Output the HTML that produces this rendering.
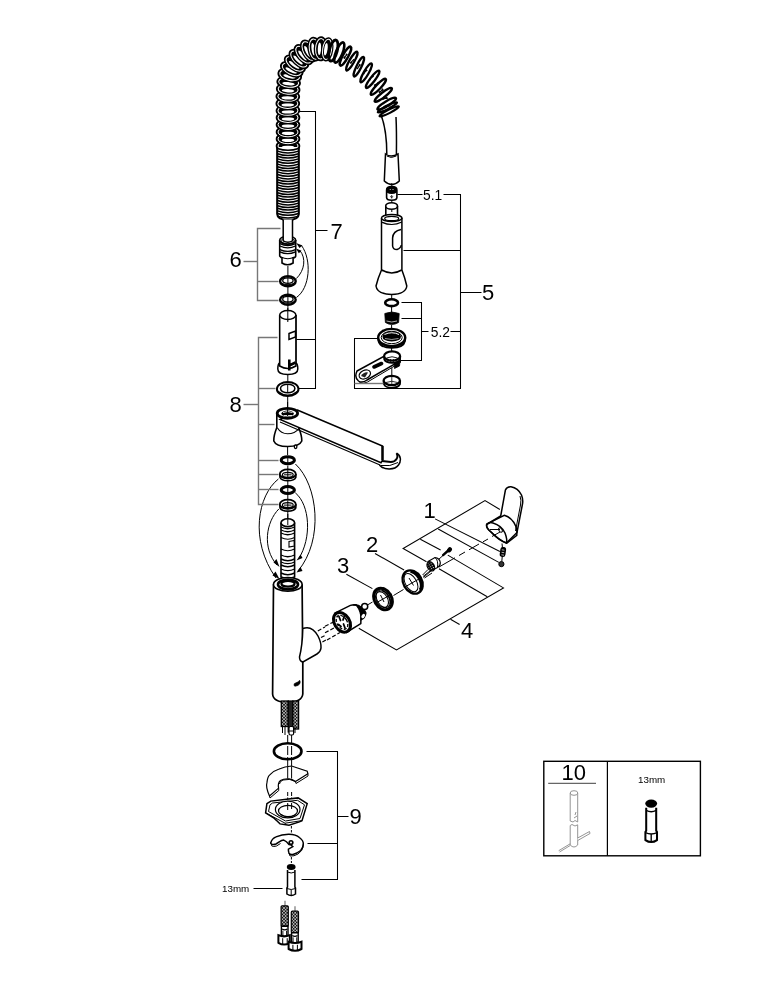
<!DOCTYPE html><html><head><meta charset="utf-8"><style>
html,body{margin:0;padding:0;background:#fff;}
svg{display:block;will-change:transform;}
.cr{fill:none;stroke:#000;stroke-width:3.6;}
.cw{fill:none;stroke:#fff;stroke-width:1.0;}
.s1{stroke:#000;stroke-width:1;}
.s1:not([fill]){fill:none;}
.s12{stroke:#000;stroke-width:1.2;}
.s12:not([fill]){fill:none;}
.s15{stroke:#000;stroke-width:1.5;}
.s15:not([fill]){fill:none;}
.s2{stroke:#000;stroke-width:2;}
.s2:not([fill]){fill:none;}
.s22{stroke:#000;stroke-width:2.2;}
.s22:not([fill]){fill:none;}
.s26{stroke:#000;stroke-width:2.6;}
.s26:not([fill]){fill:none;}
.br{fill:none;stroke:#000;stroke-width:1.05;}
.brg{fill:none;stroke:#777;stroke-width:1.4;}
text{font-family:"Liberation Sans",sans-serif;fill:#000;}
.t10{font-size:9.8px;}
.t13{font-size:13.8px;}
.t22{font-size:22px;}
.t19{font-size:19px;}
.t20{font-size:20px;}
.t21{font-size:21px;}
</style></head><body><svg width="769" height="1000" viewBox="0 0 769 1000"><g><polyline points="345.0,55.8 345.2,56.0 345.5,56.1 345.7,56.3 345.9,56.5 346.2,56.6 346.4,56.8 346.6,57.0 346.8,57.1 347.1,57.3 347.3,57.5 347.5,57.6 347.7,57.8 347.9,58.0 348.2,58.1 348.4,58.3 348.6,58.5 348.8,58.7 349.0,58.8 349.3,59.0 349.5,59.2 349.7,59.4 349.9,59.5 350.1,59.7 350.3,59.9 350.6,60.1 350.8,60.2 351.0,60.4 351.2,60.6 351.4,60.8 351.6,60.9 351.8,61.1 352.0,61.3 352.3,61.5 352.5,61.6 352.7,61.8 352.9,62.0 353.1,62.2 353.3,62.3 353.5,62.5 353.7,62.7 353.9,62.8 354.1,63.0 354.3,63.2 354.6,63.4 354.8,63.5 355.0,63.7 355.2,63.9 355.4,64.0 355.6,64.2 355.8,64.3 356.0,64.5 356.2,64.7 356.4,64.8 356.6,65.0 356.8,65.1 357.0,65.3 357.2,65.5 357.4,65.6 357.6,65.8 357.8,65.9 358.0,66.1 358.2,66.2 358.5,66.4 358.7,66.6 358.9,66.7 359.1,66.9 359.3,67.0 359.5,67.2 359.7,67.4 359.9,67.5 360.1,67.7 360.3,67.8 360.5,68.0 360.6,68.1 360.8,68.3 361.0,68.5 361.2,68.6 361.4,68.8 361.6,68.9 361.8,69.1 362.0,69.3 362.2,69.4 362.4,69.6 362.6,69.7 362.8,69.9 363.0,70.0 363.2,70.2 363.4,70.4 363.6,70.5 363.7,70.7 363.9,70.8 364.1,71.0 364.3,71.2 364.5,71.3 364.7,71.5 364.9,71.6 365.1,71.8 365.2,72.0 365.4,72.1 365.6,72.3 365.8,72.5 366.0,72.6 366.2,72.8 366.3,72.9 366.5,73.1 366.7,73.3 366.9,73.4 367.1,73.6 367.2,73.8 367.4,73.9 367.6,74.1 367.8,74.3 368.0,74.4 368.1,74.6 368.3,74.8 368.5,74.9 368.7,75.1 368.8,75.3 369.0,75.4 369.2,75.6 369.3,75.8 369.5,75.9 369.7,76.1 369.8,76.3 370.0,76.5 370.2,76.6 370.3,76.8 370.5,77.0 370.7,77.2 370.8,77.3 371.0,77.5 371.2,77.7 371.3,77.9 371.5,78.0 371.6,78.2 371.8,78.4 372.0,78.6 372.1,78.8 372.3,78.9 372.4,79.1 372.6,79.3 372.8,79.5 372.9,79.7 373.1,79.9 373.2,80.0 373.4,80.2 373.6,80.4 373.7,80.6 373.9,80.8 374.0,81.0 374.2,81.2 374.3,81.4 374.5,81.6 374.6,81.8 374.8,81.9 374.9,82.1 375.1,82.3 375.2,82.5 375.4,82.7 375.5,82.9 375.7,83.1 375.8,83.3 376.0,83.5 376.1,83.7 376.3,83.9 376.4,84.1 376.6,84.3 376.7,84.5 376.8,84.7 377.0,84.9 377.1,85.1 377.3,85.3 377.4,85.5 377.5,85.6 377.7,85.8 377.8,86.0 378.0,86.2 378.1,86.4 378.2,86.6 378.4,86.8 378.5,87.0 378.6,87.2 378.8,87.4 378.9,87.6 379.0,87.8 379.1,88.0 379.3,88.2 379.4,88.3 379.5,88.5 379.6,88.7 379.8,88.9 379.9,89.1 380.0,89.3 380.1,89.5 380.2,89.7 380.4,89.8 380.5,90.0 380.6,90.2 380.7,90.4 380.8,90.6 380.9,90.8 381.1,90.9 381.2,91.1 381.3,91.3 381.4,91.5 381.5,91.6 381.6,91.8 381.7,92.0 381.8,92.2 381.9,92.3 382.0,92.5 382.1,92.7 382.2,92.8 382.3,93.0 382.4,93.2 382.5,93.3 382.6,93.5 382.7,93.7 382.8,93.9 382.8,94.0 382.9,94.2 383.0,94.4 383.1,94.5 383.2,94.7 383.3,94.9 383.4,95.0 383.4,95.2 383.5,95.4 383.6,95.5 383.7,95.7 383.8,95.9 383.8,96.0 383.9,96.2 384.0,96.4 384.1,96.5 384.1,96.7 384.2,96.9 384.3,97.0 384.3,97.2 384.4,97.3 384.5,97.5 384.5,97.7 384.6,97.8 384.7,98.0 384.7,98.1 384.8,98.3 384.9,98.5 384.9,98.6 385.0,98.8 385.0,98.9 385.1,99.1 385.2,99.2 385.2,99.4 385.3,99.6 385.3,99.7 385.4,99.9 385.4,100.0 385.5,100.2 385.5,100.3 385.6,100.5 385.6,100.6 385.7,100.8 385.7,100.9 385.8,101.0 385.8,101.2 385.9,101.3 385.9,101.5 386.0,101.6 386.0,101.8 386.1,101.9 386.1,102.0 386.2,102.2 386.2,102.3 386.3,102.4 386.3,102.6 386.4,102.7 386.4,102.8 386.5,103.0 386.5,103.1 386.5,103.2 386.6,103.3 386.6,103.5 386.7,103.6 386.7,103.7 386.8,103.8 386.8,103.9 386.8,104.1 386.9,104.2 386.9,104.3 387.0,104.4 387.0,104.5 387.0,104.6 387.1,104.7 387.1,104.8 387.2,104.9 387.2,105.0 387.2,105.1 387.3,105.2 387.3,105.3 387.3,105.4 387.4,105.5 387.4,105.6 387.4,105.7 387.5,105.8 387.5,105.9 387.5,106.0 387.5,106.1 387.6,106.2 387.6,106.3 387.6,106.4 387.7,106.5 387.7,106.5 387.7,106.6 387.7,106.7 387.8,106.8 387.8,106.9 387.8,107.0 387.8,107.0 387.8,107.1 387.9,107.2 387.9,107.3 387.9,107.4 387.9,107.4 387.9,107.5 388.0,107.6 388.0,107.7 388.0,107.7 388.0,107.8 388.0,107.9 388.0,107.9 388.1,108.0 388.1,108.1 388.1,108.1 388.1,108.2 388.1,108.3 388.1,108.3 388.1,108.4 388.2,108.4 388.2,108.5 388.2,108.6 388.2,108.6 388.2,108.7 388.2,108.7 388.2,108.8 388.2,108.9 388.3,108.9 388.3,109.0 388.3,109.0 388.3,109.1 388.3,109.1 388.3,109.2 388.3,109.2 388.3,109.3 388.3,109.3 388.4,109.4 388.4,109.4 388.4,109.4 388.4,109.5 388.4,109.5 388.4,109.6 388.4,109.6 388.4,109.7 388.4,109.7 388.4,109.7 388.4,109.8 388.5,109.8 388.5,109.9 388.5,109.9 388.5,109.9 388.5,110.0 388.5,110.0" fill="none" stroke="#000" stroke-width="5.5" stroke-dasharray="1.2 7.3"/><ellipse cx="288.00" cy="146.00" rx="5.00" ry="10.60" transform="rotate(-90.00 288.00 146.00)" fill="#000" stroke="#000" stroke-width="3.4"/><ellipse cx="288.00" cy="146.00" rx="4.80" ry="10.00" transform="rotate(-90.00 288.00 146.00)" class="cw"/><ellipse cx="288.00" cy="147.30" rx="1.70" ry="6.30" transform="rotate(-90.00 288.00 147.30)" fill="#fff"/><ellipse cx="288.00" cy="138.90" rx="5.00" ry="10.60" transform="rotate(-90.00 288.00 138.90)" fill="#000" stroke="#000" stroke-width="3.4"/><ellipse cx="288.00" cy="138.90" rx="4.80" ry="10.00" transform="rotate(-90.00 288.00 138.90)" class="cw"/><ellipse cx="288.00" cy="140.20" rx="1.70" ry="6.30" transform="rotate(-90.00 288.00 140.20)" fill="#fff"/><ellipse cx="288.00" cy="132.02" rx="5.00" ry="10.60" transform="rotate(-90.00 288.00 132.02)" fill="#000" stroke="#000" stroke-width="3.4"/><ellipse cx="288.00" cy="132.02" rx="4.80" ry="10.00" transform="rotate(-90.00 288.00 132.02)" class="cw"/><ellipse cx="288.00" cy="133.32" rx="1.70" ry="6.30" transform="rotate(-90.00 288.00 133.32)" fill="#fff"/><ellipse cx="288.00" cy="124.71" rx="5.00" ry="10.60" transform="rotate(-90.00 288.00 124.71)" fill="#000" stroke="#000" stroke-width="3.4"/><ellipse cx="288.00" cy="124.71" rx="4.80" ry="10.00" transform="rotate(-90.00 288.00 124.71)" class="cw"/><ellipse cx="288.00" cy="126.01" rx="1.70" ry="6.30" transform="rotate(-90.00 288.00 126.01)" fill="#fff"/><ellipse cx="288.00" cy="117.66" rx="5.00" ry="10.60" transform="rotate(-90.12 288.00 117.66)" fill="#000" stroke="#000" stroke-width="3.4"/><ellipse cx="288.00" cy="117.66" rx="4.80" ry="10.00" transform="rotate(-90.12 288.00 117.66)" class="cw"/><ellipse cx="288.00" cy="118.96" rx="1.70" ry="6.30" transform="rotate(-90.12 288.00 118.96)" fill="#fff"/><ellipse cx="287.92" cy="110.57" rx="5.00" ry="10.60" transform="rotate(-91.04 287.92 110.57)" fill="#000" stroke="#000" stroke-width="3.4"/><ellipse cx="287.92" cy="110.57" rx="4.80" ry="10.00" transform="rotate(-91.04 287.92 110.57)" class="cw"/><ellipse cx="287.94" cy="111.87" rx="1.70" ry="6.30" transform="rotate(-91.04 287.94 111.87)" fill="#fff"/><ellipse cx="287.80" cy="103.58" rx="5.00" ry="10.60" transform="rotate(-90.66 287.80 103.58)" fill="#000" stroke="#000" stroke-width="3.4"/><ellipse cx="287.80" cy="103.58" rx="4.80" ry="10.00" transform="rotate(-90.66 287.80 103.58)" class="cw"/><ellipse cx="287.81" cy="104.88" rx="1.70" ry="6.30" transform="rotate(-90.66 287.81 104.88)" fill="#fff"/><ellipse cx="287.81" cy="96.54" rx="5.00" ry="10.60" transform="rotate(-88.71 287.81 96.54)" fill="#000" stroke="#000" stroke-width="3.4"/><ellipse cx="287.81" cy="96.54" rx="4.80" ry="10.00" transform="rotate(-88.71 287.81 96.54)" class="cw"/><ellipse cx="287.78" cy="97.84" rx="1.70" ry="6.30" transform="rotate(-88.71 287.78 97.84)" fill="#fff"/><ellipse cx="288.16" cy="89.38" rx="5.00" ry="10.60" transform="rotate(-86.48 288.16 89.38)" fill="#000" stroke="#000" stroke-width="3.4"/><ellipse cx="288.16" cy="89.38" rx="4.80" ry="10.00" transform="rotate(-86.48 288.16 89.38)" class="cw"/><ellipse cx="288.08" cy="90.68" rx="1.70" ry="6.30" transform="rotate(-86.48 288.08 90.68)" fill="#fff"/><ellipse cx="288.67" cy="82.39" rx="5.00" ry="10.60" transform="rotate(-84.42 288.67 82.39)" fill="#000" stroke="#000" stroke-width="3.4"/><ellipse cx="288.67" cy="82.39" rx="4.80" ry="10.00" transform="rotate(-84.42 288.67 82.39)" class="cw"/><ellipse cx="288.55" cy="83.68" rx="1.70" ry="6.30" transform="rotate(-84.42 288.55 83.68)" fill="#fff"/><ellipse cx="289.76" cy="75.19" rx="5.40" ry="10.80" transform="rotate(-77.08 289.76 75.19)" fill="#000" stroke="#000" stroke-width="3.4"/><ellipse cx="289.76" cy="75.19" rx="5.20" ry="10.20" transform="rotate(-77.08 289.76 75.19)" class="cw"/><ellipse cx="289.47" cy="76.45" rx="1.70" ry="6.30" transform="rotate(-77.08 289.47 76.45)" fill="#fff"/><ellipse cx="291.73" cy="69.26" rx="5.40" ry="10.80" transform="rotate(-65.07 291.73 69.26)" fill="#000" stroke="#000" stroke-width="3.4"/><ellipse cx="291.73" cy="69.26" rx="5.20" ry="10.20" transform="rotate(-65.07 291.73 69.26)" class="cw"/><ellipse cx="291.18" cy="70.43" rx="1.70" ry="6.30" transform="rotate(-65.07 291.18 70.43)" fill="#fff"/><ellipse cx="294.91" cy="63.83" rx="5.40" ry="10.80" transform="rotate(-54.27 294.91 63.83)" fill="#000" stroke="#000" stroke-width="3.4"/><ellipse cx="294.91" cy="63.83" rx="5.20" ry="10.20" transform="rotate(-54.27 294.91 63.83)" class="cw"/><ellipse cx="294.15" cy="64.88" rx="1.70" ry="6.30" transform="rotate(-54.27 294.15 64.88)" fill="#fff"/><ellipse cx="298.94" cy="59.00" rx="5.40" ry="10.80" transform="rotate(-46.15 298.94 59.00)" fill="#000" stroke="#000" stroke-width="3.4"/><ellipse cx="298.94" cy="59.00" rx="5.20" ry="10.20" transform="rotate(-46.15 298.94 59.00)" class="cw"/><ellipse cx="298.04" cy="59.94" rx="1.70" ry="6.30" transform="rotate(-46.15 298.04 59.94)" fill="#fff"/><ellipse cx="303.56" cy="54.64" rx="5.40" ry="10.80" transform="rotate(-41.10 303.56 54.64)" fill="#000" stroke="#000" stroke-width="3.4"/><ellipse cx="303.56" cy="54.64" rx="5.20" ry="10.20" transform="rotate(-41.10 303.56 54.64)" class="cw"/><ellipse cx="302.58" cy="55.49" rx="1.70" ry="6.30" transform="rotate(-41.10 302.58 55.49)" fill="#fff"/><ellipse cx="308.61" cy="51.00" rx="5.40" ry="10.80" transform="rotate(-27.89 308.61 51.00)" fill="#000" stroke="#000" stroke-width="3.4"/><ellipse cx="308.61" cy="51.00" rx="5.20" ry="10.20" transform="rotate(-27.89 308.61 51.00)" class="cw"/><ellipse cx="307.46" cy="51.60" rx="1.70" ry="6.30" transform="rotate(-27.89 307.46 51.60)" fill="#fff"/><ellipse cx="314.55" cy="49.06" rx="5.40" ry="10.80" transform="rotate(-7.96 314.55 49.06)" fill="#000" stroke="#000" stroke-width="3.4"/><ellipse cx="314.55" cy="49.06" rx="5.20" ry="10.20" transform="rotate(-7.96 314.55 49.06)" class="cw"/><ellipse cx="313.26" cy="49.24" rx="1.70" ry="6.30" transform="rotate(-7.96 313.26 49.24)" fill="#fff"/><ellipse cx="320.78" cy="48.81" rx="5.40" ry="10.80" transform="rotate(2.13 320.78 48.81)" fill="#000" stroke="#000" stroke-width="3.4"/><ellipse cx="320.78" cy="48.81" rx="5.20" ry="10.20" transform="rotate(2.13 320.78 48.81)" class="cw"/><ellipse cx="319.48" cy="48.76" rx="1.70" ry="6.30" transform="rotate(2.13 319.48 48.76)" fill="#fff"/><ellipse cx="327.15" cy="49.37" rx="4.65" ry="10.80" transform="rotate(8.15 327.15 49.37)" fill="#000" stroke="#000" stroke-width="3.0"/><ellipse cx="327.15" cy="49.37" rx="4.45" ry="10.20" transform="rotate(8.15 327.15 49.37)" class="cw"/><ellipse cx="325.86" cy="49.19" rx="1.70" ry="6.30" transform="rotate(8.15 325.86 49.19)" fill="#fff"/><ellipse cx="333.27" cy="50.55" rx="3.99" ry="10.80" transform="rotate(14.11 333.27 50.55)" fill="none" stroke="#000" stroke-width="2.8"/><ellipse cx="339.27" cy="52.52" rx="3.34" ry="10.80" transform="rotate(21.53 339.27 52.52)" fill="none" stroke="#000" stroke-width="2.6"/><ellipse cx="345.48" cy="56.13" rx="2.67" ry="10.80" transform="rotate(29.12 345.48 56.13)" fill="none" stroke="#000" stroke-width="2.4"/><ellipse cx="351.83" cy="61.12" rx="2.40" ry="10.80" transform="rotate(29.54 351.83 61.12)" fill="none" stroke="#000" stroke-width="2.3"/><ellipse cx="358.85" cy="66.72" rx="2.40" ry="10.80" transform="rotate(26.16 358.85 66.72)" fill="none" stroke="#000" stroke-width="2.3"/><ellipse cx="366.17" cy="72.78" rx="2.40" ry="10.80" transform="rotate(29.93 366.17 72.78)" fill="none" stroke="#000" stroke-width="2.3"/><ellipse cx="372.61" cy="79.30" rx="2.40" ry="10.80" transform="rotate(37.38 372.61 79.30)" fill="none" stroke="#000" stroke-width="2.3"/><ellipse cx="378.36" cy="86.81" rx="2.40" ry="10.80" transform="rotate(43.53 378.36 86.81)" fill="none" stroke="#000" stroke-width="2.3"/><ellipse cx="383.28" cy="94.86" rx="2.40" ry="10.80" transform="rotate(51.87 383.28 94.86)" fill="none" stroke="#000" stroke-width="2.3"/><ellipse cx="386.71" cy="103.70" rx="2.40" ry="10.80" transform="rotate(58.60 386.71 103.70)" fill="none" stroke="#000" stroke-width="2.3"/><g transform="rotate(63 387.4 107.3)"><ellipse cx="387.4" cy="107.3" rx="1.7" ry="10.8" fill="none" stroke="#000" stroke-width="2.1"/></g><g transform="rotate(63 389.2 111.3)"><ellipse cx="389.2" cy="111.3" rx="1.7" ry="10.8" fill="none" stroke="#000" stroke-width="2.1"/></g></g><path d="M277.2 147 L277.2 214 Q277.5 220 288 220 Q298.5 220 298.8 214 L298.8 147" stroke="#000" stroke-width="2.1" fill="#fff"/><path d="M277.5 148.5 Q288 152.1 298.5 148.5" stroke="#000" stroke-width="1.45" fill="none"/><path d="M277.5 151.1 Q288 154.7 298.5 151.1" stroke="#000" stroke-width="1.45" fill="none"/><path d="M277.5 153.7 Q288 157.3 298.5 153.7" stroke="#000" stroke-width="1.45" fill="none"/><path d="M277.5 156.3 Q288 159.9 298.5 156.3" stroke="#000" stroke-width="1.45" fill="none"/><path d="M277.5 158.9 Q288 162.5 298.5 158.9" stroke="#000" stroke-width="1.45" fill="none"/><path d="M277.5 161.5 Q288 165.1 298.5 161.5" stroke="#000" stroke-width="1.45" fill="none"/><path d="M277.5 164.1 Q288 167.7 298.5 164.1" stroke="#000" stroke-width="1.45" fill="none"/><path d="M277.5 166.7 Q288 170.3 298.5 166.7" stroke="#000" stroke-width="1.45" fill="none"/><path d="M277.5 169.3 Q288 172.9 298.5 169.3" stroke="#000" stroke-width="1.45" fill="none"/><path d="M277.5 171.9 Q288 175.5 298.5 171.9" stroke="#000" stroke-width="1.45" fill="none"/><path d="M277.5 174.5 Q288 178.1 298.5 174.5" stroke="#000" stroke-width="1.45" fill="none"/><path d="M277.5 177.1 Q288 180.7 298.5 177.1" stroke="#000" stroke-width="1.45" fill="none"/><path d="M277.5 179.7 Q288 183.3 298.5 179.7" stroke="#000" stroke-width="1.45" fill="none"/><path d="M277.5 182.3 Q288 185.9 298.5 182.3" stroke="#000" stroke-width="1.45" fill="none"/><path d="M277.5 184.9 Q288 188.5 298.5 184.9" stroke="#000" stroke-width="1.45" fill="none"/><path d="M277.5 187.5 Q288 191.1 298.5 187.5" stroke="#000" stroke-width="1.45" fill="none"/><path d="M277.5 190.1 Q288 193.7 298.5 190.1" stroke="#000" stroke-width="1.45" fill="none"/><path d="M277.5 192.7 Q288 196.3 298.5 192.7" stroke="#000" stroke-width="1.45" fill="none"/><path d="M277.5 195.3 Q288 198.9 298.5 195.3" stroke="#000" stroke-width="1.45" fill="none"/><path d="M277.5 197.9 Q288 201.5 298.5 197.9" stroke="#000" stroke-width="1.45" fill="none"/><path d="M277.5 200.5 Q288 204.1 298.5 200.5" stroke="#000" stroke-width="1.45" fill="none"/><path d="M277.5 203.1 Q288 206.7 298.5 203.1" stroke="#000" stroke-width="1.45" fill="none"/><path d="M277.5 205.7 Q288 209.3 298.5 205.7" stroke="#000" stroke-width="1.45" fill="none"/><path d="M277.5 208.3 Q288 211.9 298.5 208.3" stroke="#000" stroke-width="1.45" fill="none"/><path d="M277.5 210.9 Q288 214.5 298.5 210.9" stroke="#000" stroke-width="1.45" fill="none"/><path d="M277.5 213.5 Q288 217.1 298.5 213.5" stroke="#000" stroke-width="1.45" fill="none"/><path d="M277.5 216.1 Q288 219.7 298.5 216.1" stroke="#000" stroke-width="1.45" fill="none"/><path d="M381 115 C385 125 386.8 135 386.8 154" class="s15"/><path d="M396 117 C396.5 127 396.6 140 396.4 154" class="s15"/><path d="M385.5 154 Q391 158 398 154 L399.3 181 Q392 188 384.3 181 Z" class="s15" fill="#fff"/><path d="M386.8 156 Q391 159 396.4 156" class="s1"/><path d="M386.6 190 Q386.6 186.6 391.7 186.6 Q396.9 186.6 396.9 190 L396.9 197.5 Q396.9 200.2 391.7 200.2 Q386.6 200.2 386.6 197.5 Z" fill="#fff" stroke="#000" stroke-width="1.6"/><path d="M386.6 190 Q386.6 186.6 391.7 186.6 Q396.9 186.6 396.9 190 L396.9 192.5 Q391.7 195.5 386.6 192.5 Z" fill="#000"/><path d="M389.8 189.5 L390.6 189.5 M392.6 189.5 L393.4 189.5" stroke="#fff" stroke-width="1.2"/><path d="M391.7 195 L391.7 198.5 M390.2 196.5 Q391.7 198 393.2 196.5" fill="none" stroke="#000" stroke-width="0.8"/><line x1="391.8" y1="183" x2="391.8" y2="186.6" class="s1"/><line x1="391.8" y1="200" x2="391.8" y2="212" class="s1" stroke-dasharray="3 2"/><path d="M385.8 206 L385.8 215.5 M397.5 206 L397.5 215.5" stroke="#000" stroke-width="1.6"/><ellipse cx="391.6" cy="206" rx="5.9" ry="3.3" fill="#fff" stroke="#000" stroke-width="1.6"/><path d="M381.5 218 L381.5 270 Q378 278 376 286 Q377 294 391.5 294.5 Q406 294 406.8 286 Q405 278 401.9 270 L401.9 218" class="s15" fill="#fff"/><ellipse cx="391.7" cy="218" rx="10.2" ry="3.6" class="s15" fill="#fff"/><ellipse cx="391.7" cy="218.5" rx="7" ry="2.2" class="s12"/><path d="M381.5 222 Q391.7 227 401.9 222" class="s12"/><path d="M381.8 270 Q391.7 276 401.7 270" class="s15"/><path d="M401 229.5 Q393 231 392.6 238 L392.6 246 Q393 249.5 397 249.5 Q401 248 401.3 245" class="s15"/><line x1="391.7" y1="295" x2="391.7" y2="299" class="s1"/><ellipse cx="391.6" cy="302.7" rx="6.4" ry="3.4" fill="none" stroke="#000" stroke-width="2.6"/><line x1="391.6" y1="306.5" x2="391.6" y2="312" class="s1"/><path d="M384.8 313.5 Q391.6 310.5 399.2 313.5 L398.6 322.5 Q391.6 326.5 385.4 322.5 Z" fill="#000" stroke="#000" stroke-width="0.8"/><path d="M386.5 321 Q391.6 323 397 321" stroke="#fff" stroke-width="0.7" fill="none"/><line x1="391.6" y1="325" x2="391.6" y2="329" class="s1"/><path d="M378.2 337.5 L378.5 341 Q380 347.8 391.7 347.8 Q403.5 347.8 405 341 L405.3 337.5" fill="#fff" stroke="#000" stroke-width="1.8"/><path d="M378.6 340.5 Q391.7 350 404.8 340.5 M378.8 342.8 Q391.7 351.5 404.6 342.8" fill="none" stroke="#000" stroke-width="0.9"/><ellipse cx="391.7" cy="337.5" rx="13.5" ry="8.6" fill="#fff" stroke="#000" stroke-width="2.4"/><ellipse cx="391.7" cy="337.5" rx="10.5" ry="6.2" fill="none" stroke="#000" stroke-width="1"/><path d="M382.5 336.5 Q383 331.5 391.7 331.5 Q400.5 331.5 401 336.5 Q401 341 391.7 341.5 Q382.5 341 382.5 336.5 Z" fill="#000"/><path d="M384.5 334.5 Q391.7 331 399 334.5" stroke="#fff" stroke-width="1" fill="none"/><path d="M385 338.5 Q391.7 340.5 398.5 338.5" stroke="#fff" stroke-width="0.6" fill="none"/><line x1="391.6" y1="348" x2="391.6" y2="351.5" class="s1"/><path d="M357 371 L383.5 356.6 L396 358 Q401 359 400 361 L367 380 Q362 383.5 358.5 381 Q354 377.5 357 371 Z" fill="#fff" stroke="#000" stroke-width="1.5"/><path d="M359.5 382.5 Q363 384.5 367.5 382 L400.5 362.5 L400.3 360.5" fill="none" stroke="#000" stroke-width="1"/><ellipse cx="364.8" cy="374.5" rx="6" ry="4.2" transform="rotate(-25 364.8 374.5)" fill="#fff" stroke="#000" stroke-width="1.2"/><path d="M361 376 Q364 371.5 368 372.5 L365 377.5 Z" fill="#222"/><path d="M374 367 L381.5 363.5" stroke="#000" stroke-width="3.6" stroke-linecap="round"/><path d="M394 362.5 L394.5 368.5 L399.5 366 L400 361" fill="#000" stroke="#000" stroke-width="0.8"/><path d="M384 356 L384.3 359.5 Q386 362.8 392.1 362.8 Q398.3 362.8 400 359.5 L400.3 356" fill="#fff" stroke="#000" stroke-width="1.8"/><ellipse cx="392.1" cy="356" rx="8" ry="4.7" fill="#fff" stroke="#000" stroke-width="2.2"/><path d="M386.5 358 Q392.1 355.5 397.5 358" fill="none" stroke="#000" stroke-width="0.9"/><path d="M388 360.5 L396 360.5 M390.5 359 L390.5 362 M393.5 359 L393.5 362" stroke="#000" stroke-width="0.7"/><line x1="391.8" y1="368" x2="391.8" y2="375" class="s1"/><path d="M383.6 380.5 L383.8 384 Q385.5 387.8 391.8 387.8 Q398.2 387.8 400 384 L400.2 380.5" fill="#fff" stroke="#000" stroke-width="1.8"/><ellipse cx="391.8" cy="380.5" rx="8.1" ry="4.7" fill="#fff" stroke="#000" stroke-width="2.2"/><path d="M386 382.5 Q391.8 380 397.5 382.5 M388 385 L396 385 M391.8 377 L391.8 386" fill="none" stroke="#000" stroke-width="0.8"/><polyline points="397.5,194.5 422.5,194.5" class="br"/><polyline points="443.5,194.5 460.5,194.5 460.5,388.5 354.5,388.5 354.5,338.5 378.5,338.5" class="br"/><polyline points="403.5,250.5 460.5,250.5" class="br"/><polyline points="460.5,292.5 481.5,292.5" class="br"/><polyline points="354.5,383.5 383.5,383.5" class="brg"/><polyline points="401.5,302.5 421.5,302.5 421.5,360.5 400.5,360.5" class="br"/><polyline points="401.5,318.5 421.5,318.5" class="br"/><polyline points="421.5,331.5 428.5,331.5" class="br"/><polyline points="450.5,331.5 460.5,331.5" class="br"/><text x="423" y="199.8" class="t13">5.1</text><text x="430.8" y="336.6" class="t13">5.2</text><text x="482" y="299.8" class="t22">5</text><path d="M279.7 240 L279.7 256 Q281 257.8 282 258 L282 263 Q287.5 266.5 293.1 263 L293.1 258 Q295.7 257.5 295.7 256 L295.7 240" fill="#fff" stroke="#000" stroke-width="1.6"/><ellipse cx="287.7" cy="240.2" rx="8" ry="4" fill="#fff" stroke="#000" stroke-width="1.6"/><ellipse cx="287.7" cy="240.8" rx="6.6" ry="2.9" fill="none" stroke="#000" stroke-width="0.9"/><path d="M283.2 219.5 L283.2 240.8 Q287.9 243.5 292.5 240.8 L292.5 219.5" fill="#fff" stroke="#000" stroke-width="1.5"/><path d="M279.9 243.7 Q287.7 247.3 295.5 243.7 M279.9 246 Q287.7 249.6 295.5 246 M279.9 249.6 Q287.7 253.2 295.5 249.6 M279.9 251.9 Q287.7 255.5 295.5 251.9" fill="none" stroke="#000" stroke-width="1.3"/><path d="M281 257 Q287.7 260.5 294.5 257" fill="none" stroke="#000" stroke-width="1.2"/><line x1="287.9" y1="266" x2="287.9" y2="275" class="s1"/><ellipse cx="287.9" cy="281.2" rx="7.8" ry="5.0" fill="#fff" stroke="#000" stroke-width="2.4"/><ellipse cx="287.9" cy="280.6" rx="5.2" ry="2.8" fill="none" stroke="#000" stroke-width="1.3"/><path d="M280.5 282.7 Q287.9 286.7 295.3 282.7" fill="none" stroke="#000" stroke-width="1.1"/><line x1="287.9" y1="277.2" x2="287.9" y2="285.2" class="s1"/><ellipse cx="287.9" cy="299.8" rx="7.8" ry="5.0" fill="#fff" stroke="#000" stroke-width="2.4"/><ellipse cx="287.9" cy="299.2" rx="5.2" ry="2.8" fill="none" stroke="#000" stroke-width="1.3"/><path d="M280.5 301.3 Q287.9 305.3 295.3 301.3" fill="none" stroke="#000" stroke-width="1.1"/><line x1="287.9" y1="295.8" x2="287.9" y2="303.8" class="s1"/><line x1="287.9" y1="286.5" x2="287.9" y2="294.5" class="s1"/><line x1="287.9" y1="305.5" x2="287.9" y2="311" class="s1"/><path d="M296.4 278.5 C305 270 306 258 300 250.7" class="s1"/><path d="M296.4 297.5 C310 288 312 260 301.5 245.5" class="s1"/><path d="M296.2 243 L302.5 245.5 L299.5 248 Z" fill="#000"/><path d="M296 248.5 L301.5 250.7 L298.8 253.3 Z" fill="#000"/><path d="M279.7 315 L279.7 368 M295.9 315 L295.9 368" class="s15"/><path d="M277.8 369 Q277.8 374.5 287.8 374.5 Q297.8 374.5 297.8 369 Q297.8 364 295.9 363 L279.7 363 Q277.8 364 277.8 369 Z" class="s15" fill="#fff"/><path d="M279.7 315 L279.7 366 Q287.8 371 295.9 366 L295.9 315" class="s15" fill="#fff"/><ellipse cx="287.8" cy="315" rx="8.1" ry="4.4" class="s15" fill="#fff"/><line x1="287.8" y1="308" x2="287.8" y2="322" class="s1"/><path d="M289 333.5 L295.5 331 L295.5 337 L289 339.5 Z" class="s15"/><path d="M289.3 359.5 L289.3 370.5 M289.3 365.5 L295.5 362.5" stroke="#000" stroke-width="2.6"/><line x1="287.8" y1="375" x2="287.8" y2="381" class="s1"/><ellipse cx="287.7" cy="389" rx="10.8" ry="7.1" class="s2" fill="#fff"/><ellipse cx="287.7" cy="388.5" rx="7.2" ry="4.3" class="s15"/><path d="M278 391.5 Q287.7 399 297.4 391.5" class="s15"/><line x1="287.7" y1="384" x2="287.7" y2="393" class="s1"/><line x1="287.7" y1="396" x2="287.7" y2="407" class="s1"/><path d="M276.8 414 L276.8 427.5 Q273.5 436 273.8 441 Q276 446.5 287.6 446.5 Q299.5 446.5 301.8 441 Q302 436 299 428.5 L298.4 414" fill="#fff" stroke="#000" stroke-width="1.6"/><path d="M277.3 427.8 Q281 433.8 287.6 433.8 Q295 433.8 299 428.5" fill="none" stroke="#000" stroke-width="1.1"/><ellipse cx="295.6" cy="446.8" rx="1.3" ry="1.8" fill="#fff" stroke="#000" stroke-width="1.3"/><path d="M297.3 410 L382.5 446 L382.5 460 L381 462.8 L280 419.5 Z" fill="#fff" stroke="#000" stroke-width="1.5"/><path d="M280 422 L380 465" fill="none" stroke="#000" stroke-width="1.2"/><path d="M382.5 446 L382.5 460" stroke="#000" stroke-width="2.4"/><path d="M396.5 453.2 C399 457 396 462 390.8 462 L382 461" class="s2"/><path d="M396.5 453.2 C401 455 401.5 461 398.5 465 C395 470 384 470.5 379.4 465" class="s15"/><path d="M381 465.5 Q390 467 398 462.5" class="s1"/><ellipse cx="287.4" cy="413.3" rx="10.2" ry="5.0" fill="#fff" stroke="#000" stroke-width="2.8"/><ellipse cx="287.6" cy="413.6" rx="6.2" ry="3.0" fill="#000"/><path d="M283 412.5 Q287.6 410.5 292.5 412.5 M283.5 415.5 L292 415.5" stroke="#fff" stroke-width="0.9" fill="none"/><line x1="287.6" y1="402" x2="287.6" y2="416" class="s1"/><line x1="287.6" y1="447" x2="287.6" y2="455" class="s1"/><ellipse cx="287.8" cy="460.2" rx="6.6" ry="3.5" fill="#fff" stroke="#000" stroke-width="3.1"/><line x1="287.8" y1="457.2" x2="287.8" y2="463.2" class="s1"/><line x1="287.8" y1="465.5" x2="287.8" y2="470" class="s1"/><path d="M279.8 474.0 L280 477.5 Q281.5 480.8 287.8 480.8 Q294.3 480.8 295.8 477.5 L296 474.0" fill="#fff" stroke="#000" stroke-width="1.6"/><ellipse cx="287.8" cy="474.0" rx="8" ry="4.6" fill="#fff" stroke="#000" stroke-width="1.8"/><ellipse cx="287.8" cy="474.8" rx="5.4" ry="2.5" fill="none" stroke="#000" stroke-width="1.2"/><path d="M280.3 476.2 Q287.8 480.0 295.3 476.2" fill="none" stroke="#000" stroke-width="1.5"/><line x1="287.8" y1="470.0" x2="287.8" y2="477.5" class="s1"/><line x1="284" y1="474.8" x2="291.6" y2="474.8" class="s1"/><line x1="287.8" y1="481" x2="287.8" y2="486" class="s1"/><ellipse cx="287.8" cy="490.0" rx="6.6" ry="3.5" fill="#fff" stroke="#000" stroke-width="3.1"/><line x1="287.8" y1="487.0" x2="287.8" y2="493.0" class="s1"/><line x1="287.8" y1="494.5" x2="287.8" y2="500" class="s1"/><path d="M279.8 504.3 L280 507.8 Q281.5 511.1 287.8 511.1 Q294.3 511.1 295.8 507.8 L296 504.3" fill="#fff" stroke="#000" stroke-width="1.6"/><ellipse cx="287.8" cy="504.3" rx="8" ry="4.6" fill="#fff" stroke="#000" stroke-width="1.8"/><ellipse cx="287.8" cy="505.1" rx="5.4" ry="2.5" fill="none" stroke="#000" stroke-width="1.2"/><path d="M280.3 506.5 Q287.8 510.3 295.3 506.5" fill="none" stroke="#000" stroke-width="1.5"/><line x1="287.8" y1="500.3" x2="287.8" y2="507.8" class="s1"/><line x1="284" y1="505.1" x2="291.6" y2="505.1" class="s1"/><line x1="287.8" y1="511.5" x2="287.8" y2="519" class="s1"/><path d="M281 522.7 L281 577 Q287.8 580 294.6 577 L294.6 522.7" fill="#fff" stroke="#000" stroke-width="1.6"/><ellipse cx="287.8" cy="522.7" rx="6.8" ry="3.9" fill="#fff" stroke="#000" stroke-width="1.6"/><line x1="287.8" y1="514" x2="287.8" y2="525" class="s1"/><path d="M281 527.0 Q287.8 530.5 294.6 527.0" fill="none" stroke="#000" stroke-width="1.4"/><path d="M281 530.0 Q287.8 533.5 294.6 530.0" fill="none" stroke="#000" stroke-width="1.3"/><path d="M281 533.0 Q287.8 536.5 294.6 533.0" fill="none" stroke="#000" stroke-width="1.3"/><path d="M281 537.5 Q287.8 541.0 294.6 537.5" fill="none" stroke="#000" stroke-width="1.2"/><path d="M281 549.0 Q287.8 552.5 294.6 549.0" fill="none" stroke="#000" stroke-width="1.2"/><path d="M281 555.0 Q287.8 558.5 294.6 555.0" fill="none" stroke="#000" stroke-width="1.3"/><path d="M289 541.5 L294.3 540.5 L294.3 546 L289 547 Z" fill="none" stroke="#000" stroke-width="1.1"/><path d="M281 559.0 Q287.8 562.4 294.6 559.0" fill="none" stroke="#000" stroke-width="1.6"/><path d="M281 562.0 Q287.8 565.4 294.6 562.0" fill="none" stroke="#000" stroke-width="1.3"/><path d="M281 565.0 Q287.8 568.4 294.6 565.0" fill="none" stroke="#000" stroke-width="1.6"/><path d="M281 569.0 Q287.8 572.4 294.6 569.0" fill="none" stroke="#000" stroke-width="1.3"/><path d="M281 573.0 Q287.8 576.4 294.6 573.0" fill="none" stroke="#000" stroke-width="1.6"/><path d="M278.4 479 C258 495 249 540 276 578" class="s1"/><path d="M278.8 509 C266 522 262 548 277 565" class="s1"/><path d="M295.4 464 C318 485 324 540 298 571" class="s1"/><path d="M295.3 492.8 C310 505 312 538 298.5 559" class="s1"/><path d="M279.5 579 L272.5 575.5 L275.5 571.5 Z" fill="#000"/><path d="M279.5 567 L273.5 562.5 L276.5 559 Z" fill="#000"/><path d="M296.5 560.5 L300.5 554.5 L302.5 558 Z" fill="#000"/><path d="M296.5 572.5 L300.5 567 L302.5 571 Z" fill="#000"/><path d="M273.5 584.3 L272.6 694 Q273 702 287.5 702.5 Q302 702 302.8 694 L302.8 662 L302.1 584.3" fill="#fff" stroke="#000" stroke-width="1.7"/><ellipse cx="287.8" cy="584.4" rx="14.3" ry="6.9" fill="#fff" stroke="#000" stroke-width="1.6"/><ellipse cx="288" cy="584.5" rx="10" ry="5" fill="none" stroke="#000" stroke-width="2.6"/><ellipse cx="288" cy="583.8" rx="6.6" ry="2.8" fill="none" stroke="#000" stroke-width="2.2"/><path d="M279.5 586.5 Q288 591 296.5 586.5 M281 581 Q288 578.5 295 581" fill="none" stroke="#000" stroke-width="1.2"/><path d="M302.8 628.5 Q312 625 318 636 Q321.5 643 321 648 Q320.5 652 317 654 L303 662 Q299.5 661.5 299.5 657 Q302.5 645 302.8 628.5" fill="#fff" class="s15"/><path d="M294 685 Q293.5 683.5 296 682.8 Q298.8 682 299.6 680.2 Q300.6 681.5 300 683.5 Q298.5 686 295 686.3 Q294 686 294 685 Z" fill="#000" stroke="#000" stroke-width="0.6"/><path d="M317.8 631 L325 627 M321 637.5 L325 635.5 M322.4 642 L327 639.5" class="s12" stroke-dasharray="4 2"/><defs><pattern id="braid" width="2.2" height="2.2" patternUnits="userSpaceOnUse"><rect width="2.2" height="2.2" fill="#000"/><circle cx="1.1" cy="1.1" r="0.55" fill="#fff"/></pattern></defs><rect x="281.3" y="701" width="7" height="25.5" fill="url(#braid2)" stroke="#000" stroke-width="1.3"/><rect x="288.2" y="701" width="4.8" height="31" fill="#222" stroke="#000" stroke-width="1.2"/><rect x="292.8" y="701" width="5.8" height="28" fill="url(#braid2)" stroke="#000" stroke-width="1.3"/><path d="M282.5 726.5 L282.5 733 M285 726.5 L285 735 M295 726.5 L295 733" class="s1"/><rect x="289" y="726.5" width="4.6" height="8.5" rx="1.5" fill="#fff" class="s12"/><path d="M289.2 731 L293.4 731" class="s1"/><path d="M287.7 735 L287.7 766 M291.6 735 L291.6 766" class="s1" stroke-dasharray="9 2"/><ellipse cx="287.7" cy="751.2" rx="13.8" ry="8.0" class="s26" fill="none"/><path d="M269.5 796 Q265.5 787 266.9 782.9 Q267.5 777 269.5 775.1 Q273 771 278.6 769.3 Q285 766.5 291.6 766 L307.2 771.2 L307.9 773.8 L295.5 781.6 Q292 779 289 778.8 Q283.5 778.5 280.5 780.5 Q277.5 783 278.6 788.1 Z" fill="#fff" class="s12"/><path d="M307.9 773.8 L308 776 L296 783.5 L295.5 781.6 M278.6 788.1 L278.8 790.5 L270 798 L269.5 796 M295.5 781.6 Q290 778 283 780 Q279.5 781.5 279.5 784" class="s1"/><path d="M287.7 766.5 L287.7 778.5 M291.6 766.5 L291.6 778.5" class="s1"/><path d="M287.7 792 L287.7 803 M291.6 792 L291.6 803" class="s1" stroke-dasharray="4 1.5"/><path d="M266.9 803.7 L270.8 801.1 L298.1 797.9 L307.2 803.7 L302 820.6 L299.4 821.9 L289 825.2 L280 823.9 L274 818 L265.6 812.8 Z" fill="#fff" class="s15"/><path d="M270 804.8 L272.5 803 L297.5 800.3 L304.5 804.8 L300 818.5 L285.5 821 L268.5 811.5 Z" class="s1"/><path d="M265.6 812.8 L285.1 823.2 L302 820.6 M274 818 L276 820.5 M285.1 823.2 L286 825" class="s1"/><ellipse cx="287.7" cy="809.5" rx="12.3" ry="8.4" fill="#fff" class="s12"/><ellipse cx="288" cy="811" rx="9.5" ry="5.6" class="s12"/><path d="M280.5 814 Q288 819.5 296 814.5" class="s1"/><path d="M287.7 803 L287.7 810 M291.6 803 L291.6 809" class="s1"/><line x1="291.4" y1="826" x2="291.4" y2="836" class="s1" stroke-dasharray="2.5 1.5"/><path d="M270.8 842.7 Q272 838.5 276 836.9 Q282 834.2 289 834.3 Q296 834.5 299.4 837.5 Q303.5 840.5 303.3 844 Q303 848 300.7 850.5 Q297 853.5 292.9 854.4 Q290 855 289 853.1 Q288.2 851 288.4 849.2 L292.9 846.6 Q291.5 844.8 289 844.5 Q286.5 841.2 283.8 840.1 Q281.5 840.3 280 841.4 L276 844 Q273 845 271.5 844 Q270.3 843.6 270.8 842.7 Z" fill="#fff" class="s15"/><path d="M271.5 844 L271.8 846 Q273.5 847 276.5 846 L280.5 843.5 M303.3 844 L303.3 846.5 Q302.5 851 298 854 Q294 856.5 290 856 L289 853.1" class="s1"/><circle cx="291" cy="842.5" r="2.6" fill="#000"/><circle cx="291" cy="842.5" r="1" fill="#fff"/><line x1="291.4" y1="857" x2="291.4" y2="863" class="s1" stroke-dasharray="2.5 1.5"/><g transform="translate(291.20 867.00) scale(1.000)"><path d="M-3.7 3 L-3.7 20 L-4.3 21 L-4.3 27 Q0 30 4.3 27 L4.3 21 L3.7 20 L3.7 3" fill="#fff" class="s15"/><ellipse cx="0" cy="0" rx="4.4" ry="3" fill="#000"/><path d="M-3.7 5 Q0 7 3.7 5 M-4.3 21.5 Q0 23.5 4.3 21.5 M0 23 L0 28.5" class="s1"/></g><defs><pattern id="braid2" width="3.2" height="3.2" patternUnits="userSpaceOnUse"><rect width="3.2" height="3.2" fill="#111"/><circle cx="0.8" cy="0.8" r="0.75" fill="#fff"/><circle cx="2.4" cy="2.4" r="0.75" fill="#fff"/></pattern></defs><line x1="285.0" y1="900.8" x2="285.0" y2="905.8" stroke="#777" stroke-width="1.2"/><rect x="281.1" y="905.8" width="7.2" height="20.4" rx="1" fill="url(#braid2)" stroke="#000" stroke-width="1.2"/><path d="M281.4 926.2 L281.4 935.2 Q284.7 937.2 288.0 935.2 L288.0 926.2 Z" fill="#fff" stroke="#000" stroke-width="1.4"/><path d="M282.1 929.0 Q284.7 930.7 287.3 929.0" fill="none" stroke="#000" stroke-width="1.2"/><path d="M282.9 930.7 L282.9 935.7 M286.5 930.7 L286.5 935.7" stroke="#000" stroke-width="0.9"/><path d="M278.4 935.2 L278.4 942.8 Q284.1 946.3 289.8 942.8 L289.8 935.2 Q284.1 937.7 278.4 935.2 Z" fill="#fff" stroke="#000" stroke-width="2"/><path d="M282.7 938.2 L282.7 944.3 M287.2 938.2 L287.2 944.3" stroke="#000" stroke-width="1"/><line x1="295.0" y1="906.2" x2="295.0" y2="911.2" stroke="#777" stroke-width="1.2"/><rect x="291.3" y="911.2" width="7.2" height="21.6" rx="1" fill="url(#braid2)" stroke="#000" stroke-width="1.2"/><path d="M291.6 932.8 L291.6 941.8 Q294.9 943.8 298.2 941.8 L298.2 932.8 Z" fill="#fff" stroke="#000" stroke-width="1.4"/><path d="M292.3 935.6 Q294.9 937.3 297.5 935.6" fill="none" stroke="#000" stroke-width="1.2"/><path d="M293.1 937.3 L293.1 942.3 M296.7 937.3 L296.7 942.3" stroke="#000" stroke-width="0.9"/><path d="M288.6 941.8 L288.6 949.0 Q295.1 952.5 301.5 949.0 L301.5 941.8 Q295.1 944.3 288.6 941.8 Z" fill="#fff" stroke="#000" stroke-width="2"/><path d="M292.9 944.8 L292.9 950.5 M297.4 944.8 L297.4 950.5" stroke="#000" stroke-width="1"/><polyline points="299.5,111.5 315.5,111.5 315.5,388.5 298.5,388.5" class="br"/><polyline points="296.5,339.5 315.5,339.5" class="br"/><polyline points="315.5,230.5 327.5,230.5" class="br"/><text x="330.5" y="238.7" class="t22">7</text><polyline points="280.5,228.5 257.5,228.5 257.5,300.5 278.5,300.5" class="brg"/><polyline points="257.5,281.5 278.5,281.5" class="brg"/><polyline points="243.5,261.5 257.5,261.5" class="brg"/><text x="229.5" y="266.8" class="t22">6</text><polyline points="277.5,337.5 258.5,337.5 258.5,504.5 278.5,504.5" class="brg"/><polyline points="258.5,388.5 275.5,388.5" class="brg"/><polyline points="258.5,424.5 274.5,424.5" class="brg"/><polyline points="258.5,460.5 278.5,460.5" class="brg"/><polyline points="258.5,474.5 278.5,474.5" class="brg"/><polyline points="258.5,489.5 278.5,489.5" class="brg"/><polyline points="243.5,404.5 258.5,404.5" class="brg"/><text x="229.5" y="411.6" class="t22">8</text><polyline points="306.5,751.5 337.5,751.5 337.5,879.5 301.5,879.5" class="br"/><polyline points="307.5,843.5 337.5,843.5" class="br"/><polyline points="337.5,816.5 348.5,816.5" class="br"/><text x="349.5" y="823.8" class="t22">9</text><polyline points="253.5,888.5 282.5,888.5" class="br"/><text x="222" y="892" class="t10">13mm</text><path d="M500.7 516 L505.4 490 Q507 486.5 511 486.8 Q518 488 521.5 495 Q523.5 500 522.3 505 L517 532.5 L506.4 543 Q499 540 491 532 Q486 527.5 486.6 524.5 Q495 519.5 500.7 516 Z" fill="#fff" class="s15"/><path d="M520 496 Q521.5 500 520.5 505 L515.5 531" class="s1"/><path d="M486.6 524.2 L504.3 515.3 Q512 517.5 515.8 526.2 Q517.5 531 516.8 535.3 L506.4 543.5" class="s15"/><path d="M486.6 525.5 Q487.5 521.5 493 523 Q501.5 525.5 505 533 Q507.5 539.5 506.4 543 Q499.5 541 491 532 Q486 528 486.6 525.5 Z" class="s15"/><path d="M490 529.5 L500 529.5" class="s1"/><ellipse cx="500.5" cy="530" rx="1.6" ry="2.4" transform="rotate(-30 500.5 530)" class="s1"/><line x1="502" y1="543.5" x2="502.5" y2="548" class="s1"/><rect x="500" y="547" width="5.8" height="10" rx="2.6" fill="#000" transform="rotate(8 503 552)"/><path d="M501.8 549.8 L504.4 550.2 M501.6 552.3 L504.2 552.7 M501.4 554.8 L504 555.2" stroke="#fff" stroke-width="0.7"/><line x1="502.2" y1="557" x2="501.8" y2="561.5" class="s1"/><circle cx="501.4" cy="564.1" r="2.6" fill="#333" stroke="#000" stroke-width="1"/><path d="M443.1 555.1 L448.8 550" stroke="#000" stroke-width="2.4" stroke-linecap="round"/><ellipse cx="449.5" cy="549.8" rx="2.2" ry="2.8" transform="rotate(40 449.5 549.8)" fill="#000"/><line x1="438" y1="560" x2="443.5" y2="555" class="s1"/><path d="M428 561.5 L435 557.6 Q439.5 557.8 440.3 562.5 Q440.5 566 437.5 567.5 L431 571 Z" fill="#fff" class="s12"/><ellipse cx="430.8" cy="566.3" rx="3.4" ry="5" transform="rotate(-30 430.8 566.3)" fill="url(#braid)" class="s12"/><path d="M435 557.6 Q438.5 560 437.5 567.5" class="s1"/><path d="M422.6 575 L428 569.5 M423.5 577.5 L432 570" class="s1"/><path d="M439 567 L455 557.8 M459 555.5 L465 552 M469 549.8 L479 544 M483 541.8 L488 539 M492 536.5 L500 532" class="s1"/><ellipse cx="412.6" cy="582" rx="9.3" ry="12.3" transform="rotate(-30 412.6 582)" fill="#fff" stroke="#000" stroke-width="2.3"/><ellipse cx="411" cy="582.6" rx="5.6" ry="10" transform="rotate(-30 411 582.6)" fill="none" stroke="#000" stroke-width="1"/><path d="M410.46 571.71 L411.22 571.80 L412.01 571.99 L412.83 572.30 L413.65 572.72 L414.47 573.24 L415.28 573.85 L416.07 574.56 L416.83 575.35 L417.56 576.21 L418.23 577.13 L418.85 578.10 L419.41 579.11 L419.90 580.15 L420.31 581.20 L420.65 582.26 L420.90 583.31 L421.06 584.33 L421.14 585.32 L421.13 586.26 L421.02 587.14 L420.83 587.96 L420.55 588.69 L420.19 589.35 L419.75 589.90" fill="none" stroke="#000" stroke-width="2.6"/><path d="M404 587.5 L421.5 577.5 M409 578 L413.5 585.5" class="s1"/><path d="M423 576.5 L430 571 M424.5 578 L432 573" class="s1"/><path d="M393.5 595.5 L403.5 589.5" class="s1"/><ellipse cx="383" cy="599" rx="8.6" ry="11.4" transform="rotate(-30 383 599)" fill="#fff" stroke="#000" stroke-width="3"/><ellipse cx="382" cy="599.6" rx="5.6" ry="8.6" transform="rotate(-30 382 599.6)" fill="none" stroke="#000" stroke-width="1.1"/><ellipse cx="383.3" cy="598.8" rx="6.2" ry="9.4" transform="rotate(-30 383.3 598.8)" fill="none" stroke="#000" stroke-width="1"/><path d="M381.84 590.71 L382.37 590.79 L382.93 590.95 L383.50 591.19 L384.08 591.50 L384.67 591.88 L385.25 592.33 L385.83 592.85 L386.40 593.42 L386.94 594.04 L387.46 594.71 L387.94 595.41 L388.40 596.15 L388.81 596.91 L389.18 597.69 L389.49 598.47 L389.76 599.25 L389.97 600.02 L390.13 600.78 L390.23 601.51 L390.27 602.21 L390.24 602.87 L390.16 603.48 L390.02 604.05 L389.83 604.55" fill="none" stroke="#000" stroke-width="1.6"/><path d="M375 603.5 L392 594 M380.5 595 L384 602" class="s1"/><path d="M364 607 L372.5 602" class="s1"/><path d="M334.8 613.2 L350.4 605.4 Q353 604.5 356.2 604.8 Q361.5 608 361.1 614.5 L360.8 623.6 L346.5 632.4 Z" fill="#fff" class="s15"/><path d="M353 605 Q358 604 361 607 Q364 608 366 613 Q365.5 618 361 620 Q361.5 612 356.5 605.5 Z" fill="#000" class="s12"/><ellipse cx="363.2" cy="616" rx="1.6" ry="2.4" transform="rotate(30 363.2 616)" fill="#fff"/><circle cx="364.7" cy="606.4" r="3" fill="#fff" class="s15"/><ellipse cx="342" cy="622.3" rx="7.6" ry="10.6" transform="rotate(-32 342 622.3)" fill="#fff" stroke="#000" stroke-width="3"/><ellipse cx="342" cy="622.3" rx="5" ry="7.6" transform="rotate(-32 342 622.3)" fill="none" stroke="#000" stroke-width="1.4" stroke-dasharray="3 1.6"/><path d="M339 616.5 L340.5 620.5 M343.5 624 L345 628 M344.5 615.5 L343 620 M338.5 624.5 L341 626.5" stroke="#000" stroke-width="1.8" stroke-linecap="round"/><path d="M325 626.2 L333.5 622 M325 632.7 L335 627.5 M327 639.9 L340 632.4" class="s12" stroke-dasharray="4 2"/><polyline points="426.5,561.8 403.1,548.5 485,500.6 499.9,509.5" class="br"/><polyline points="435.1,518.9 499.9,551.5" class="br"/><polyline points="438.2,529 498.8,562.4" class="br"/><polyline points="420.3,539.2 440.6,550" class="br"/><text x="423.5" y="518.3" class="t22">1</text><polyline points="447.8,555.1 503.5,587.9 396.5,650 358.8,628.3" class="br"/><polyline points="439,568.8 487.3,596.7" class="br"/><polyline points="450.5,619.3 459.6,624.5" class="br"/><text x="461" y="638.2" class="t22">4</text><polyline points="375,553.5 404.1,570" class="br"/><text x="366" y="551.6" class="t22">2</text><polyline points="346.4,574.3 372.4,588.6" class="br"/><text x="337" y="573.3" class="t22">3</text><rect x="543.8" y="761.3" width="156.6" height="94.5" fill="none" stroke="#000" stroke-width="1.4"/><line x1="607.4" y1="761.3" x2="607.4" y2="855.8" stroke="#000" stroke-width="1.2"/><text x="561.5" y="780" class="t22">10</text><line x1="548.2" y1="783.4" x2="596" y2="783.4" stroke="#666" stroke-width="1.2"/><g stroke="#888" stroke-width="0.9" fill="#fff"><path d="M570.2 793 L570.2 821 L573 822 L575 820.5 L577.7 822 L577.7 793"/><ellipse cx="574" cy="793" rx="3.8" ry="2.3"/><path d="M570.2 825.5 L572 824.5 L575 826 L577.7 824.8 L577.7 845 Q574 849 570.2 845 Z"/><path d="M558.7 850.7 L570.2 843.8 M559.5 852 L570.2 845.5 M577.7 838 L589.5 831.5 L590 833.5 L577.7 840.5"/><path d="M575 815 L576 812 M574 818 L577 816" /></g><text x="638" y="782.9" class="t10">13mm</text><g transform="translate(651.20 803.60) scale(1.350)"><path d="M-3.7 3 L-3.7 20 L-4.3 21 L-4.3 27 Q0 30 4.3 27 L4.3 21 L3.7 20 L3.7 3" fill="#fff" class="s15"/><ellipse cx="0" cy="0" rx="4.4" ry="3" fill="#000"/><path d="M-3.7 5 Q0 7 3.7 5 M-4.3 21.5 Q0 23.5 4.3 21.5 M0 23 L0 28.5" class="s1"/></g></svg></body></html>
